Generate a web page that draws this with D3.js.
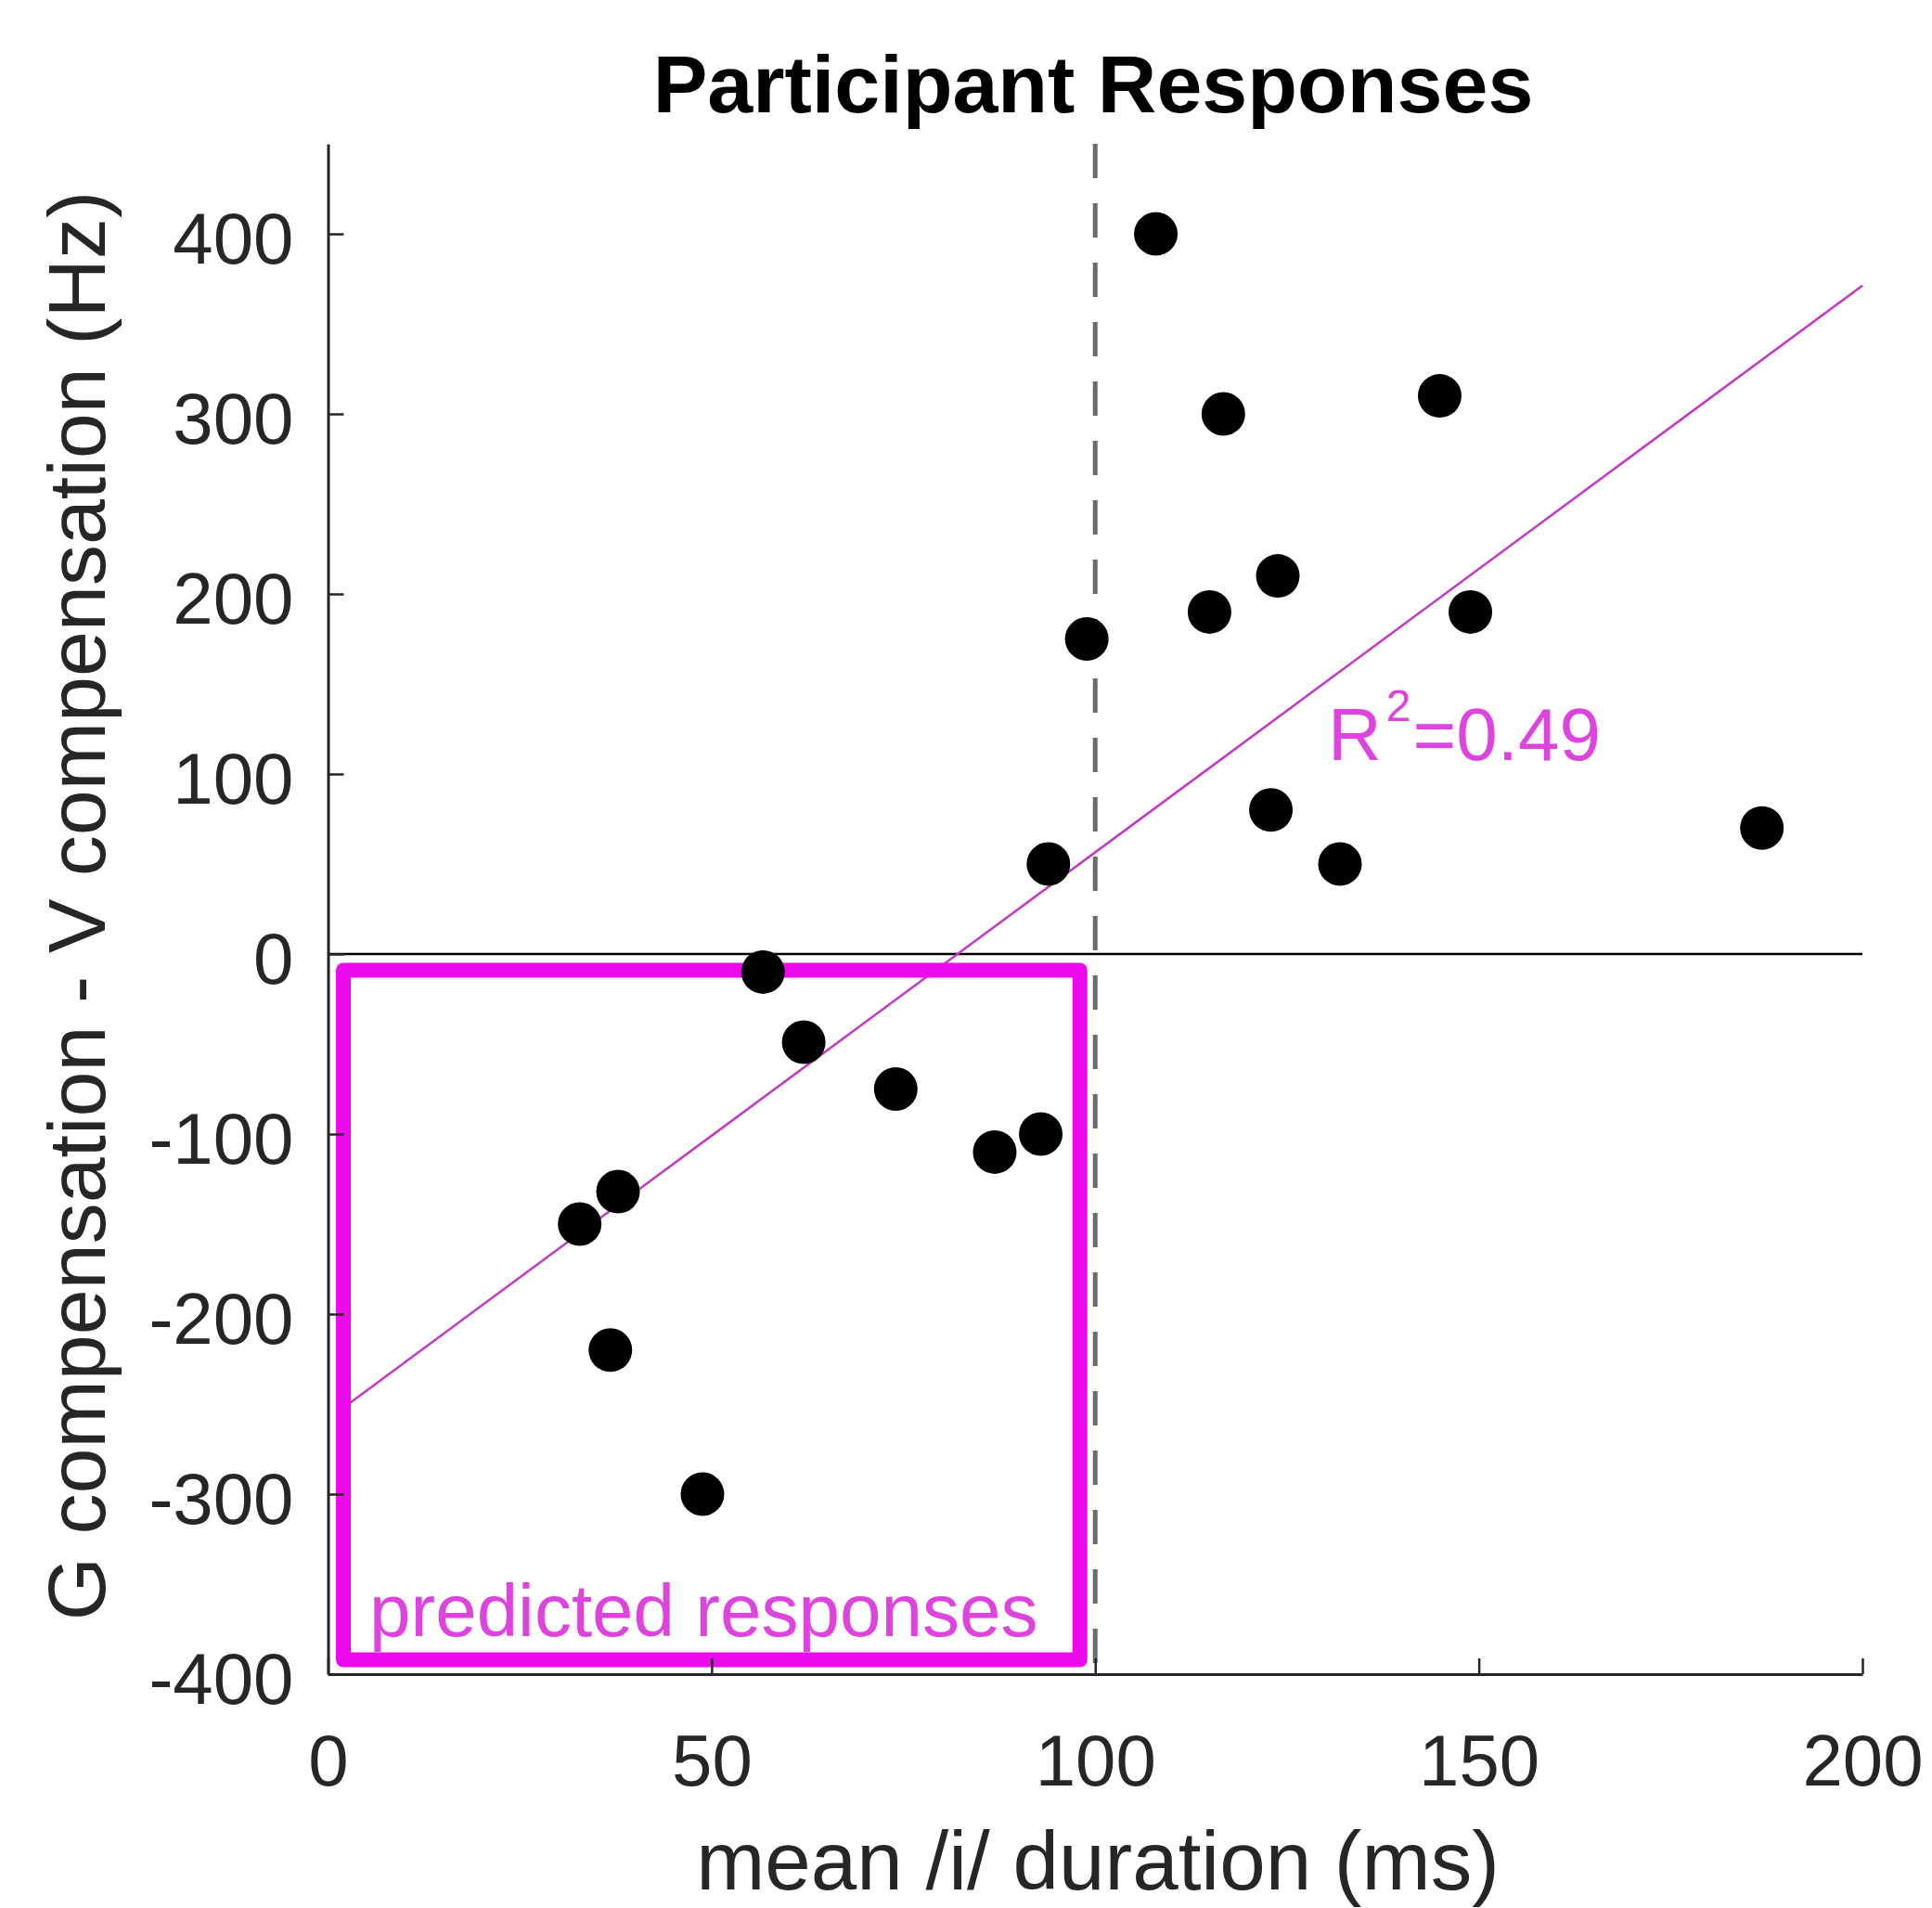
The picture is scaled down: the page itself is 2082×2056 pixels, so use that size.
<!DOCTYPE html>
<html>
<head>
<meta charset="utf-8">
<script src="https://cdn.jsdelivr.net/npm/d3@7"></script>
<style>
  body { margin: 0; background: #fff; }
  text { font-family: "Liberation Sans", Arial, sans-serif; }
</style>
</head>
<body>
<div id="chart"></div>
<script>
// participant values
const duration = [107.9, 116.7, 144.9, 123.8, 114.9, 148.9, 98.9, 122.9, 131.9, 93.9,
                  186.9, 56.7, 62.0, 74.0, 86.9, 92.9, 37.8, 32.8, 36.8, 48.8];
const compensation = [400, 300, 310, 210, 190, 190, 175, 80, 50, 50,
                      70, -10, -49, -75, -110, -100, -132, -150, -220, -300];

const xTicks = [0, 50, 100, 150, 200];
const yTicks = [-400, -300, -200, -100, 0, 100, 200, 300, 400];
const xDomain = [0, 200];
const yDomain = [-400, 450];

// predicted-response region (x0, x1, y0, y1) and the duration cut-off
const boxX = [2, 98];
const boxY = [-392, -9];
const cutoff = 100;
const rSquared = "0.49";

const W = 2082, H = 2056;
const margin = { left: 353.5, right: W - 2007, top: 155, bottom: H - 1804 };

const svg = d3.select("#chart").append("svg")
    .attr("width", W)
    .attr("height", H);

const x = d3.scaleLinear().domain(xDomain).range([margin.left, W - margin.right]);
const y = d3.scaleLinear().domain(yDomain).range([H - margin.bottom, margin.top]);

const axisColor = "#262626";

// least squares fit of the points
const mx = d3.mean(duration), my = d3.mean(compensation);
let sxy = 0, sxx = 0;
duration.forEach((d, i) => {
    sxy += (d - mx) * (compensation[i] - my);
    sxx += (d - mx) * (d - mx);
});
const slope = sxy / sxx;
const intercept = my - slope * mx;

// zero line
svg.append("line")
    .attr("x1", x(xDomain[0])).attr("x2", x(xDomain[1]))
    .attr("y1", y(0)).attr("y2", y(0))
    .attr("stroke", "#000")
    .attr("stroke-width", 2.5);

// dashed cut-off line
svg.append("line")
    .attr("x1", x(cutoff)).attr("x2", x(cutoff))
    .attr("y1", y(yDomain[1])).attr("y2", y(yDomain[0]))
    .attr("stroke", "#6b6b6b")
    .attr("stroke-width", 5)
    .attr("stroke-dasharray", "37,27");

// regression line (starts under the box edge)
svg.append("line")
    .attr("x1", x(boxX[0])).attr("x2", x(xDomain[1]))
    .attr("y1", y(intercept + slope * boxX[0]))
    .attr("y2", y(intercept + slope * xDomain[1]))
    .attr("stroke", "#c238c2")
    .attr("stroke-width", 2.5);

// predicted responses box
svg.append("rect")
    .attr("x", x(boxX[0]))
    .attr("y", y(boxY[1]))
    .attr("width", x(boxX[1]) - x(boxX[0]))
    .attr("height", y(boxY[0]) - y(boxY[1]))
    .attr("fill", "none")
    .attr("stroke", "#ec0aec")
    .attr("stroke-width", 16)
    .attr("stroke-linejoin", "round");

svg.append("text")
    .attr("x", 398)
    .attr("y", 1763)
    .attr("fill", "#dd44dd")
    .style("font-size", "80px")
    .text("predicted responses");

// points
svg.selectAll(".dot")
    .data(duration.map((d, i) => ({ x: d, y: compensation[i] })))
    .enter()
    .append("circle")
    .attr("class", "dot")
    .attr("cx", d => x(d.x))
    .attr("cy", d => y(d.y))
    .attr("r", 23.5)
    .attr("fill", "#000");

// R^2 label
const rText = svg.append("text")
    .attr("x", 1431)
    .attr("y", 819)
    .attr("fill", "#dd44dd")
    .style("font-size", "80px");
rText.append("tspan").text("R");
rText.append("tspan").attr("dy", -42).attr("dx", 5).style("font-size", "48px").text("2");
rText.append("tspan").attr("dy", 42).attr("dx", 2).text("=" + rSquared);

// axes, plain hyphen for negatives
const fmt = d => String(d);

const xAxisG = svg.append("g")
    .attr("transform", `translate(0,${y(yDomain[0])})`)
    .call(d3.axisBottom(x).tickValues(xTicks).tickFormat(fmt)
        .tickSizeInner(-17).tickSizeOuter(0).tickPadding(65));

const yAxisG = svg.append("g")
    .attr("transform", `translate(${x(xDomain[0])},0)`)
    .call(d3.axisLeft(y).tickValues(yTicks).tickFormat(fmt)
        .tickSizeInner(-17).tickSizeOuter(0).tickPadding(37));

[xAxisG, yAxisG].forEach(g => {
    g.select(".domain").attr("stroke", axisColor).attr("stroke-width", 3);
    g.selectAll(".tick line").attr("stroke", axisColor).attr("stroke-width", 2.5);
    g.selectAll(".tick text")
        .attr("fill", axisColor)
        .style("font-size", "78px")
        .style("font-family", "'Liberation Sans', Arial, sans-serif");
});
yAxisG.selectAll(".tick text").attr("dy", "0.4em");

// titles
svg.append("text")
    .attr("x", 1178)
    .attr("y", 121)
    .attr("text-anchor", "middle")
    .attr("fill", "#000")
    .style("font-size", "88px")
    .style("font-weight", "bold")
    .text("Participant Responses");

svg.append("text")
    .attr("x", 1183)
    .attr("y", 2036)
    .attr("text-anchor", "middle")
    .attr("fill", axisColor)
    .style("font-size", "89px")
    .text("mean /i/ duration (ms)");

svg.append("text")
    .attr("transform", "translate(113,976) rotate(-90)")
    .attr("text-anchor", "middle")
    .attr("fill", axisColor)
    .style("font-size", "88px")
    .text("G compensation - V compensation (Hz)");
</script>
</body>
</html>
